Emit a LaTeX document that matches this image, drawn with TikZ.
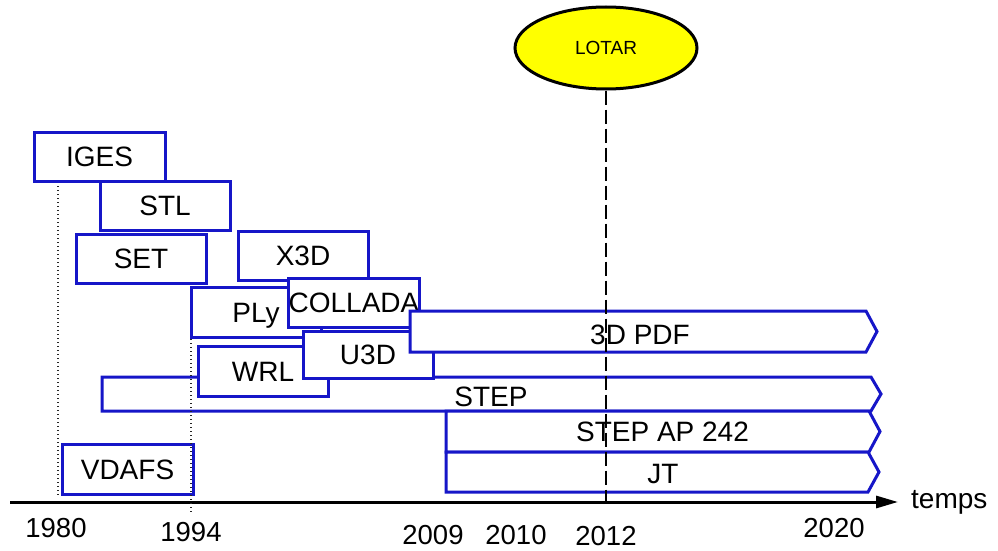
\documentclass[tikz,border=0pt]{standalone}
\usepackage{fontspec}
\setmainfont{Liberation Sans}
\usetikzlibrary{arrows.meta,shapes.geometric}
\definecolor{boxblue}{RGB}{22,22,200}
\definecolor{lotaryellow}{RGB}{255,255,0}
\tikzset{
  fbox/.style={draw=boxblue, line width=3pt, fill=white, inner sep=0pt,
    minimum width=130pt, minimum height=49pt,
    font=\fontsize{28}{28}\selectfont, text height=20pt, text depth=0pt},
  chev/.style={draw=boxblue, line width=3pt, fill=white, line join=miter},
  lbl/.style={inner sep=0pt, font=\fontsize{28}{28}\selectfont, text height=20pt, text depth=0pt},
  yearlbl/.style={inner sep=0pt, font=\fontsize{27.5}{27.5}\selectfont, text height=19.7pt, text depth=0pt},
  dotline/.style={line width=1.1pt, dash pattern=on 1pt off 3pt, black!85},
  dashline/.style={line width=2.5pt, dash pattern=on 14pt off 5pt},
  axisline/.style={line width=3pt, -{Triangle[length=22pt,width=12pt]}}
}
\begin{document}
\begin{tikzpicture}[x=1pt,y=-1pt]
\useasboundingbox (0,0) rectangle (998,551);
% rectangles
\node[fbox, minimum width=131pt] (iges) at (99.5,156.5) {IGES};
\node[fbox] (stl) at (165,205.5) {STL};
\node[fbox] (set) at (141,258.5) {SET};
\node[fbox] (x3d) at (303,255.5) {X3D};
\node[fbox, minimum height=50pt] (ply) at (256,312) {PLy};
\node[fbox] (collada) at (354,302.5) {COLLADA};
% STEP chevron
\draw[chev] (102,377) -- (871,377) -- (881,394) -- (871,411) -- (102,411) -- cycle;
\node[lbl] (step) at (491,396) {STEP};
\node[fbox, minimum height=50pt] (wrl) at (263,371) {WRL};
\node[fbox, minimum height=47pt] (u3d) at (368,354.5) {U3D};
% 3D PDF chevron
\draw[chev] (410,311) -- (866,311) -- (877,331.5) -- (866,352) -- (410,352) -- cycle;
\node[lbl] (pdf) at (640,334) {3D PDF};
% STEP AP 242 chevron
\draw[chev] (446,411) -- (869,411) -- (880,431.5) -- (869,452) -- (446,452) -- cycle;
\node[lbl] (ap242) at (662.5,431) {STEP AP 242};
% JT chevron
\draw[chev] (446,452) -- (868,452) -- (879,472) -- (868,492) -- (446,492) -- cycle;
\node[lbl] (jt) at (663,473) {JT};
\node[fbox, minimum width=131pt, minimum height=50pt] (vdafs) at (127.5,469) {VDAFS};
% axis
\coordinate (axL) at (10,502);
\coordinate (axR) at (898,502);
\draw[axisline] (axL) -- (axR);
\node[anchor=base west, inner sep=0pt, font=\fontsize{28}{28}\selectfont] (temps) at (911,508) {temps};
% dotted guides
\coordinate (d80a) at (58,186);
\coordinate (d80b) at (58,498);
\coordinate (d94a) at (191,339);
\coordinate (d94b) at (191,513);
\draw[dotline] (d80a) -- (d80b);
\draw[dotline] (d94a) -- (d94b);
% years
\node[yearlbl] (y1980) at (56,528) {1980};
\node[yearlbl] (y1994) at (191,532) {1994};
\node[yearlbl] (y2009) at (433,535) {2009};
\node[yearlbl] (y2010) at (516,535) {2010};
\node[yearlbl] (y2012) at (606,535.5) {2012};
\node[yearlbl] (y2020) at (834,528) {2020};
% LOTAR
\node[ellipse, draw=black, line width=3pt, fill=lotaryellow, minimum width=182pt, minimum height=82pt, inner sep=0pt,
  font=\fontsize{19}{19}\selectfont] (lotar) at (606,48) {LOTAR};
\coordinate (dashend) at (606,502);
\draw[dashline] (lotar.south) -- (dashend);
\end{tikzpicture}
\end{document}
